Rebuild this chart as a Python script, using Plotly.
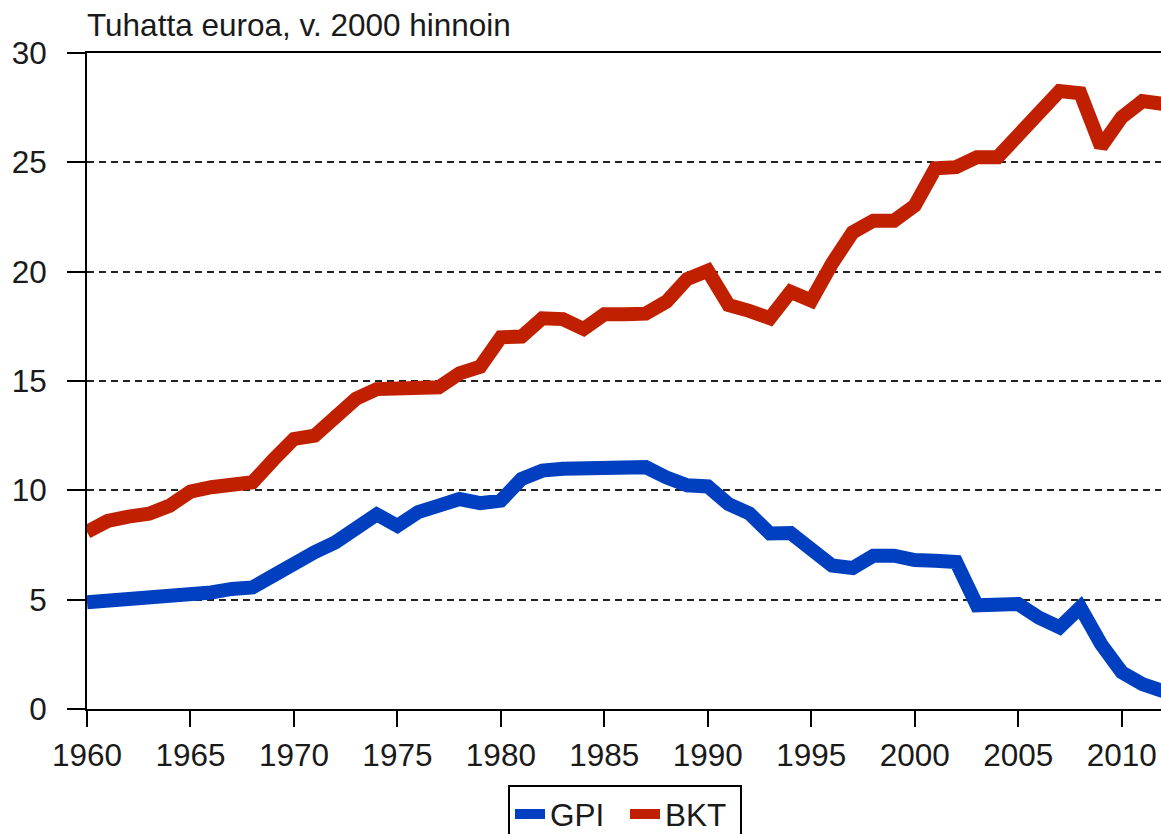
import plotly.graph_objects as go

years = list(range(1960, 2013))

bkt = [8.1, 8.6, 8.8, 8.93, 9.3, 9.94, 10.14, 10.23, 10.37, 11.39,
       12.35, 12.5, 13.26, 14.19, 14.63, 14.66, 14.66, 14.71, 15.35, 15.65,
       17.0, 17.03, 17.87, 17.83, 17.38, 18.05, 18.05, 18.08, 18.63, 19.66,
       20.04, 18.48, 18.21, 17.87, 19.08, 18.68, 20.37, 21.8, 22.33, 22.33,
       23.02, 24.73, 24.78, 25.23, 25.23, 26.3, 27.13, 28.26, 28.16, 25.72,
       27.06, 27.8, 27.67]

gpi = [4.88, 4.95, 5.03, 5.03, 5.03, 5.12, 5.33, 5.49, 5.56, 6.10,
       6.72, 7.17, 7.62, 8.23, 8.90, 8.38, 9.0, 9.30, 9.60, 9.41,
       9.53, 10.52, 10.90, 10.99, 10.99, 10.99, 11.08, 11.06, 10.59, 10.23,
       10.18, 9.37, 8.95, 8.03, 8.05, 7.35, 6.56, 6.45, 7.01, 7.01,
       6.81, 6.78, 6.72, 4.74, 4.80, 4.80, 4.18, 3.73, 4.65, 2.97,
       1.68, 1.14, 0.82]

series_names = ["GPI", "BKT"]
series_colors = ["#0040C0", "#C02000"]

x_ticks = list(range(1960, 2011, 5))
y_ticks = [0, 5, 10, 15, 20, 25, 30]
title_text = "Tuhatta euroa, v. 2000 hinnoin"

FONT = "Liberation Sans, Arial, sans-serif"
TXT = "#1a1a1a"

fig = go.Figure()
for name, vals, col in zip(series_names, [gpi, bkt], series_colors):
    fig.add_trace(go.Scatter(
        x=years, y=vals, name=name, mode="lines",
        line=dict(color=col, width=14),
    ))

fig.update_layout(
    width=1161, height=834,
    margin=dict(l=87, r=0, t=53, b=125),
    paper_bgcolor="white", plot_bgcolor="white",
    font=dict(family=FONT, size=31.5, color=TXT),
    title=dict(text=title_text, xref="paper", x=0, xanchor="left",
               yref="container", y=1 - 25 / 834, yanchor="middle",
               font=dict(family=FONT, size=31.5, color=TXT)),
    showlegend=True,
    legend=dict(orientation="h", xref="container", x=625 / 1161, xanchor="center",
                yref="container", y=1 - 785 / 834, yanchor="top",
                bordercolor="black", borderwidth=2, bgcolor="white",
                font=dict(family=FONT, size=31.5, color=TXT),
                itemwidth=30, traceorder="normal", entrywidth=70),
)

fig.update_xaxes(
    range=[1960, 2011.9], tickmode="array", tickvals=x_ticks,
    ticks="outside", ticklen=16, tickwidth=2, tickcolor="black",
    showline=True, linecolor="black", linewidth=2, mirror=True,
    showgrid=False, zeroline=False, ticklabelstandoff=1,
)
fig.update_yaxes(
    range=[0, 30], tickmode="array", tickvals=y_ticks,
    ticks="outside", ticklen=18, tickwidth=2, tickcolor="black",
    showline=True, linecolor="black", linewidth=2,
    showgrid=True, gridcolor="#222222", gridwidth=2, griddash="7px,5px",
    zeroline=False, ticklabelstandoff=14,
)

fig.write_html("out.html", config={"displayModeBar": False},
               post_script="document.body.style.margin='0px';")
